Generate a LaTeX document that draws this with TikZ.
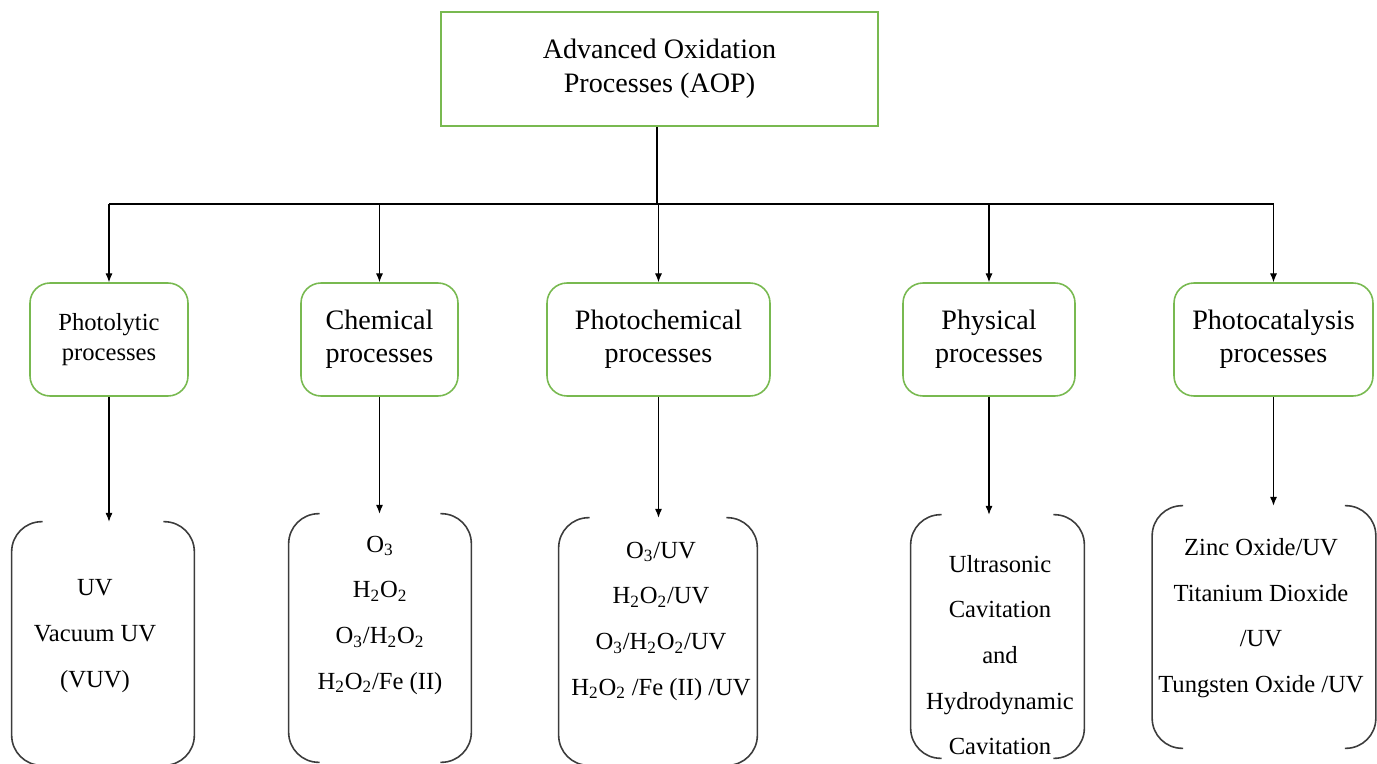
\documentclass[tikz,border=0pt]{standalone}
\usepackage{fontspec}
\setmainfont{Liberation Serif}
\usetikzlibrary{arrows.meta}
\definecolor{boxgreen}{RGB}{120,185,80}
\definecolor{brgray}{RGB}{60,60,60}
\newcommand\brackets[1]{%
  \draw[brline] ([xshift=0.62cm]#1.north west) -- (#1.north west) -- (#1.south west) -- ([xshift=0.62cm]#1.south west);
  \draw[brline] ([xshift=-0.62cm]#1.north east) -- (#1.north east) -- (#1.south east) -- ([xshift=-0.62cm]#1.south east);}
\begin{document}
\begin{tikzpicture}[x=0.02cm,y=-0.02cm,
    topbox/.style={draw=boxgreen,line width=0.9pt,minimum width=8.74cm,minimum height=2.28cm,align=center,font=\fontsize{16}{19.3}\selectfont},
    procbox/.style={draw=boxgreen,line width=0.9pt,rounded corners=0.4cm,minimum height=2.26cm,align=center,font=\fontsize{16}{19}\selectfont},
    listframe/.style={inner sep=0pt},
    listtext/.style={align=center,font=\fontsize{14}{26}\selectfont},
    brline/.style={draw=brgray,line width=0.9pt,rounded corners=0.6cm},
    link/.style={line width=0.6pt,-{Latex[length=5pt,width=4pt]}}]
  \useasboundingbox (0,0) rectangle (1377,764);

  \node[topbox] (aop) at (659.5,69) {Advanced Oxidation\\Processes (AOP)};

  \node[procbox,minimum width=3.16cm,font=\fontsize{14}{17}\selectfont] (photolytic) at (109,339.5) {Photolytic\\processes};
  \node[procbox,minimum width=3.14cm] (chemical) at (379.5,339.5) {Chemical\\processes};
  \node[procbox,minimum width=4.46cm] (photochem) at (658.5,339.5) {Photochemical\\processes};
  \node[procbox,minimum width=3.44cm] (physical) at (989,339.5) {Physical\\processes};
  \node[procbox,minimum width=3.98cm] (photocat) at (1273.5,339.5) {Photocatalysis\\processes};

  \node[listframe,minimum width=3.64cm,minimum height=4.86cm] (f1) at (103,643.5) {};
  \node[listframe,minimum width=3.64cm,minimum height=4.96cm] (f2) at (380,638) {};
  \node[listframe,minimum width=3.96cm,minimum height=4.94cm] (f3) at (658,641.5) {};
  \node[listframe,minimum width=3.46cm,minimum height=4.86cm] (f4) at (997.5,636.5) {};
  \node[listframe,minimum width=4.46cm,minimum height=4.84cm] (f5) at (1264,627) {};
  \brackets{f1}
  \brackets{f2}
  \brackets{f3}
  \brackets{f4}
  \brackets{f5}

  \node[listtext] (t1) at (95,636) {UV\\Vacuum UV\\(VUV)};
  \node[listtext] (t2) at (380,615) {O\textsubscript{3}\\H\textsubscript{2}O\textsubscript{2}\\O\textsubscript{3}/H\textsubscript{2}O\textsubscript{2}\\H\textsubscript{2}O\textsubscript{2}/Fe (II)};
  \node[listtext] (t3) at (661,621) {O\textsubscript{3}/UV\\H\textsubscript{2}O\textsubscript{2}/UV\\O\textsubscript{3}/H\textsubscript{2}O\textsubscript{2}/UV\\H\textsubscript{2}O\textsubscript{2} /Fe (II) /UV};
  \node[listtext] (t4) at (1000,655) {Ultrasonic\\Cavitation\\and\\Hydrodynamic\\Cavitation};
  \node[listtext] (t5) at (1261,618) {Zinc Oxide/UV\\Titanium Dioxide\\/UV\\Tungsten Oxide /UV};

  \coordinate (bus) at (657,204);
  \draw[line width=0.6pt] (aop.south -| bus) -- (bus);
  \draw[line width=0.6pt] (photolytic |- bus) -- (photocat |- bus);
  \draw[link] (photolytic |- bus) -- (photolytic);
  \draw[link] (chemical |- bus) -- (chemical);
  \draw[link] (photochem |- bus) -- (photochem);
  \draw[link] (physical |- bus) -- (physical);
  \draw[link] (photocat |- bus) -- (photocat);

  \draw[link] (photolytic) -- (photolytic |- f1.north);
  \draw[link] (chemical) -- (chemical |- f2.north);
  \draw[link] (photochem) -- (photochem |- f3.north);
  \draw[link] (physical) -- (physical |- f4.north);
  \draw[link] (photocat) -- (photocat |- f5.north);
\end{tikzpicture}
\end{document}
